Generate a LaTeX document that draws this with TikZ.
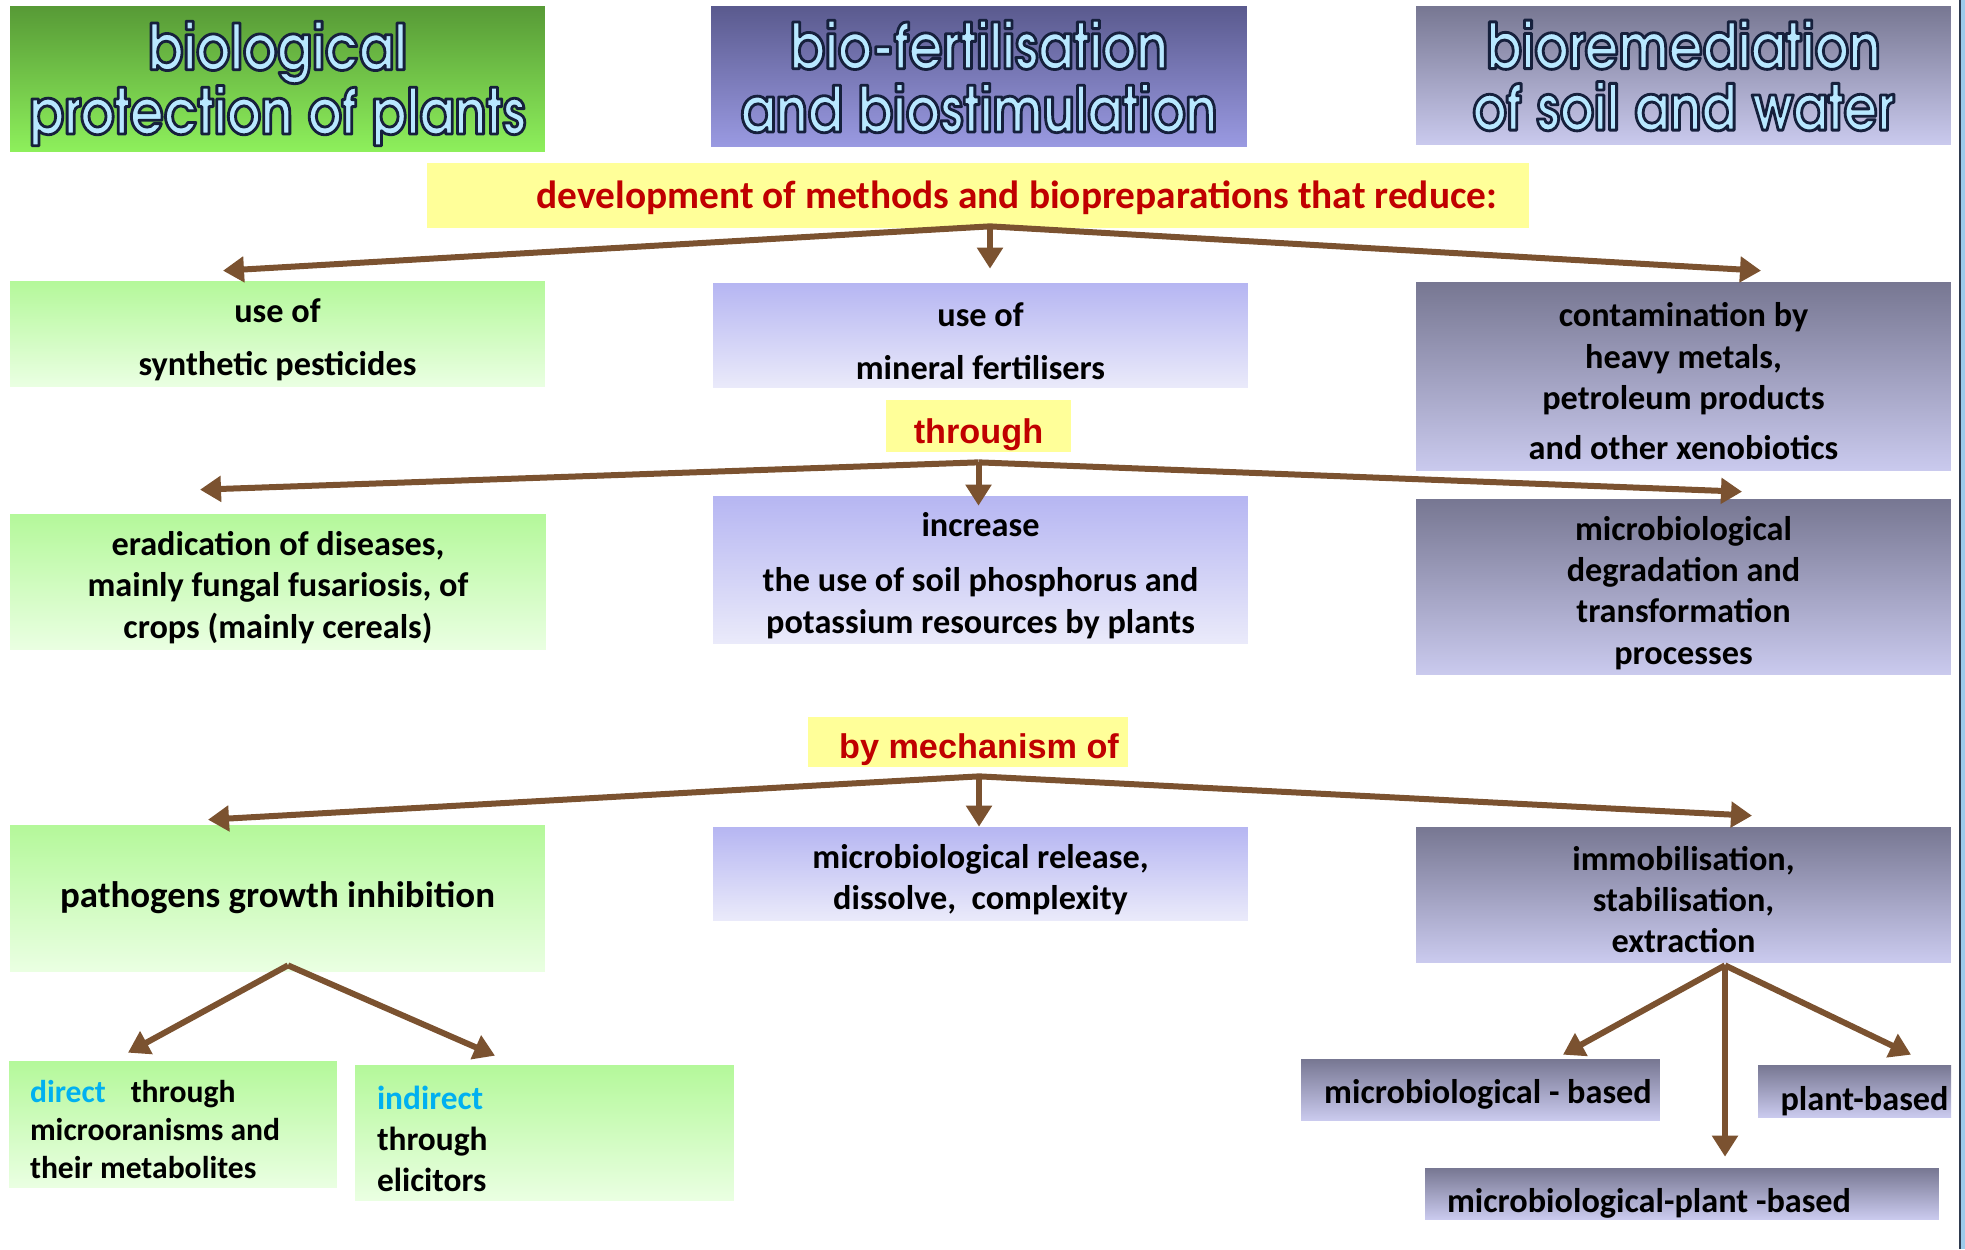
\documentclass[tikz,border=0pt]{standalone}
\usepackage{fontspec}
\setmainfont{Carlito}
\newfontfamily\headfont[FakeStretch=0.842]{TeX Gyre Adventor}
\newfontfamily\arialfont{Liberation Sans}
\usetikzlibrary{arrows.meta, positioning, calc}
\definecolor{headgreenA}{HTML}{579A36}
\definecolor{headgreenB}{HTML}{8EF05C}
\definecolor{headvioletA}{HTML}{5A5A8E}
\definecolor{headvioletB}{HTML}{9A9AE2}
\definecolor{greyA}{HTML}{777792}
\definecolor{greyB}{HTML}{CACAEE}
\definecolor{cardgreenA}{HTML}{B4F89A}
\definecolor{cardgreenB}{HTML}{EAFFE2}
\definecolor{cardvioletA}{HTML}{B6B6F2}
\definecolor{cardvioletB}{HTML}{EAEAFA}
\definecolor{linkyellow}{HTML}{FFFF99}
\definecolor{linkred}{HTML}{C00000}
\definecolor{directcyan}{HTML}{00B0F0}
\definecolor{branchbrown}{HTML}{7B5230}
\definecolor{headice}{HTML}{B8E8FF}
\definecolor{edgeblue}{HTML}{9CCBEA}
\definecolor{edgeline}{HTML}{2E3A4E}

% outlined header lettering (fill + stroke render mode)
\newcommand{\rimline}[1]{%
    \textcolor{headice}{%
        \special{pdf:literal direct 2 Tr 1.6 w 1 j 0.086 0.125 0.235 RG}%
        #1%
        \special{pdf:literal direct 0 Tr}}}

% invisible strut that lowers a first line
\newcommand{\lift}[1]{\rule{0pt}{#1}}

\begin{document}
\begin{tikzpicture}[
        x=0.02cm,
        y=-0.02cm,
        header/.style={
            inner sep=0pt,
            align=center,
            font=\headfont\bfseries\fontsize{36}{32}\selectfont,
            shading angle=45
        },
        card/.style={
            inner sep=0pt,
            align=center,
            font=\fontsize{19.5}{23.5}\selectfont\bfseries,
            shading angle=45
        },
        greencard/.style={
            card,
            top color=cardgreenA,
            bottom color=cardgreenB
        },
        violetcard/.style={
            card,
            top color=cardvioletA,
            bottom color=cardvioletB
        },
        greycard/.style={
            card,
            top color=greyA,
            bottom color=greyB
        },
        linker/.style={
            fill=linkyellow,
            inner sep=0pt,
            text=linkred,
            font=\arialfont\fontsize{19.5}{22}\selectfont\bfseries
        },
        branch/.style={
            -{Triangle[length=0.42cm, width=0.5cm]},
            line width=0.12cm,
            branchbrown
        }
    ]

        \useasboundingbox (0,0) rectangle (1965,1249);

        % ---------------------------------------------------------------------
        % Headers
        % ---------------------------------------------------------------------

        \node[
            header,
            top color=headgreenA,
            bottom color=headgreenB,
            minimum width=10.7cm,
            minimum height=2.92cm
        ] (protection) at (277.5,79) {\lift{32.7pt}\rimline{biological}\\\rimline{protection of plants}};

        \node[
            header,
            top color=headvioletA,
            bottom color=headvioletB,
            minimum width=10.72cm,
            minimum height=2.82cm
        ] (fertilisation) at (979,76.5) {\rimline{bio-fertilisation}\\[4pt]\rimline{and biostimulation}};

        \node[
            header,
            top color=greyA,
            bottom color=greyB,
            minimum width=10.7cm,
            minimum height=2.78cm
        ] (remediation) at (1683.5,75.5) {\rimline{bioremediation}\\[3pt]\rimline{of soil and water}};

        % ---------------------------------------------------------------------
        % What is reduced
        % ---------------------------------------------------------------------

        \node[
            linker,
            font=\fontsize{22.4}{24}\selectfont\bfseries,
            minimum width=22.04cm,
            minimum height=1.3cm
        ] (reduce) at (978,195.5) {\lift{18.5pt}\hspace*{1.56cm}development of methods and biopreparations that reduce:};

        \node[
            greencard,
            minimum width=10.7cm,
            minimum height=2.1cm
        ] (pesticides) at (277.5,333.5) {\lift{20.5pt}use of\\[7pt]synthetic pesticides};

        \node[
            violetcard,
            minimum width=10.7cm,
            minimum height=2.08cm
        ] (fertilisers) at (980.5,335) {\lift{20.5pt}use of\\[7pt]mineral fertilisers};

        \node[
            greycard,
            minimum width=10.7cm,
            minimum height=3.78cm
        ] (contamination) at (1683.5,376.5) {\lift{19pt}contamination by\\heavy metals,\\petroleum products\\[5pt]and other xenobiotics};

        \coordinate (hubreduce) at ([shift={(12,-2)}]reduce.south);

        \draw[branch]
            (hubreduce) -- ([shift={(-54.5,-10)}]pesticides.north);

        \draw[branch]
            (hubreduce) -- ($(hubreduce |- fertilisers.north)+(0,-14)$);

        \draw[branch]
            (hubreduce) -- ([shift={(77.5,-11)}]contamination.north);

        % ---------------------------------------------------------------------
        % Through
        % ---------------------------------------------------------------------

        \node[
            linker,
            minimum width=3.7cm,
            minimum height=1.04cm
        ] (through) at (978.5,426) {\lift{24pt}through};

        \node[
            greencard,
            minimum width=10.72cm,
            minimum height=2.7cm
        ] (eradication) at (278,581.5) {\lift{20.5pt}eradication of diseases,\\mainly fungal fusariosis, of\\crops (mainly cereals)};

        \node[
            violetcard,
            minimum width=10.7cm,
            minimum height=2.94cm
        ] (nutrients) at (980.5,569.5) {\lift{20.5pt}increase\\[8pt]the use of soil phosphorus and\\potassium resources by plants};

        \node[
            greycard,
            minimum width=10.7cm,
            minimum height=3.52cm
        ] (degradation) at (1683.5,587) {\lift{20.5pt}microbiological\\degradation and\\transformation\\processes};

        \coordinate (hubthrough) at ([shift={(0,10)}]through.south);

        \draw[branch]
            (hubthrough) -- ([shift={(-78,-24)}]eradication.north);

        \draw[branch]
            (hubthrough) -- ($(hubthrough |- nutrients.north)+(0,10)$);

        \draw[branch]
            (hubthrough) -- ([shift={(58.5,-7)}]degradation.north);

        % ---------------------------------------------------------------------
        % By mechanism of
        % ---------------------------------------------------------------------

        \node[
            linker,
            minimum width=6.4cm,
            minimum height=1.0cm
        ] (mechanism) at (968,742) {\lift{22.7pt}\hspace*{0.44cm}by mechanism of};

        \node[
            greencard,
            font=\fontsize{21}{25}\selectfont\bfseries,
            minimum width=10.7cm,
            minimum height=2.92cm
        ] (inhibition) at (277.5,898) {pathogens growth inhibition};

        \node[
            violetcard,
            minimum width=10.7cm,
            minimum height=1.86cm
        ] (release) at (980.5,873.5) {\lift{20.5pt}microbiological release,\\dissolve,\ \ complexity};

        \node[
            greycard,
            minimum width=10.7cm,
            minimum height=2.7cm
        ] (immobilisation) at (1683.5,894.5) {\lift{19.5pt}immobilisation,\\stabilisation,\\extraction};

        \coordinate (hubmechanism) at ([shift={(11,9)}]mechanism.south);

        \draw[branch]
            (hubmechanism) -- ([shift={(-69.5,-5)}]inhibition.north);

        \draw[branch]
            (hubmechanism) -- (hubmechanism |- release.north);

        \draw[branch]
            (hubmechanism) -- ([shift={(68.5,-11)}]immobilisation.north);

        % ---------------------------------------------------------------------
        % Lower branches
        % ---------------------------------------------------------------------

        \node[
            greencard,
            align=flush left,
            font=\fontsize{18}{21.6}\selectfont\bfseries,
            inner xsep=0.42cm,
            text width=5.72cm,
            minimum height=2.52cm
        ] (direct) at (173,1124) {\lift{19.4pt}\textcolor{directcyan}{direct}\hspace{0.5cm}through\\microoranisms and\\their metabolites};

        \node[
            greencard,
            align=flush left,
            font=\fontsize{19}{23.3}\selectfont\bfseries,
            inner xsep=0.44cm,
            text width=6.7cm,
            minimum height=2.7cm
        ] (indirect) at (544.5,1132.5) {\lift{20.5pt}\textcolor{directcyan}{indirect}\\through\\elicitors};

        \node[
            greycard,
            minimum width=7.18cm,
            minimum height=1.22cm
        ] (microbial) at (1480.5,1089.5) {\lift{19.4pt}\hspace*{0.3cm}microbiological - based};

        \node[
            greycard,
            minimum width=3.86cm,
            minimum height=1.04cm
        ] (plantbased) at (1854.5,1091) {\lift{25pt}\hspace*{0.4cm}plant-based};

        \node[
            greycard,
            align=flush left,
            inner xsep=0.44cm,
            text width=9.4cm,
            minimum height=1.02cm
        ] (combined) at (1682,1193.5) {\lift{25pt}microbiological-plant -based};

        \coordinate (hubinhibition) at ([shift={(10.5,-6)}]inhibition.south);

        \draw[branch]
            (hubinhibition) -- ([shift={(-45,-8)}]direct.north);

        \draw[branch]
            (hubinhibition) -- ([shift={(-49.5,-9)}]indirect.north);

        \coordinate (hubimmobilisation) at ([shift={(41.5,3)}]immobilisation.south);

        \draw[branch]
            (hubimmobilisation) -- ([shift={(82.5,-4)}]microbial.north);

        \draw[branch]
            (hubimmobilisation) -- ($(hubimmobilisation |- combined.north)+(0,-11)$);

        \draw[branch]
            (hubimmobilisation) -- ([shift={(56.5,-10)}]plantbased.north);

        % slide edge
        \fill[edgeblue] (1960,0) rectangle (1965,1249);
        \draw[edgeline, line width=0.04cm] (1959.5,0) -- (1959.5,1249);

    \end{tikzpicture}
\end{document}
